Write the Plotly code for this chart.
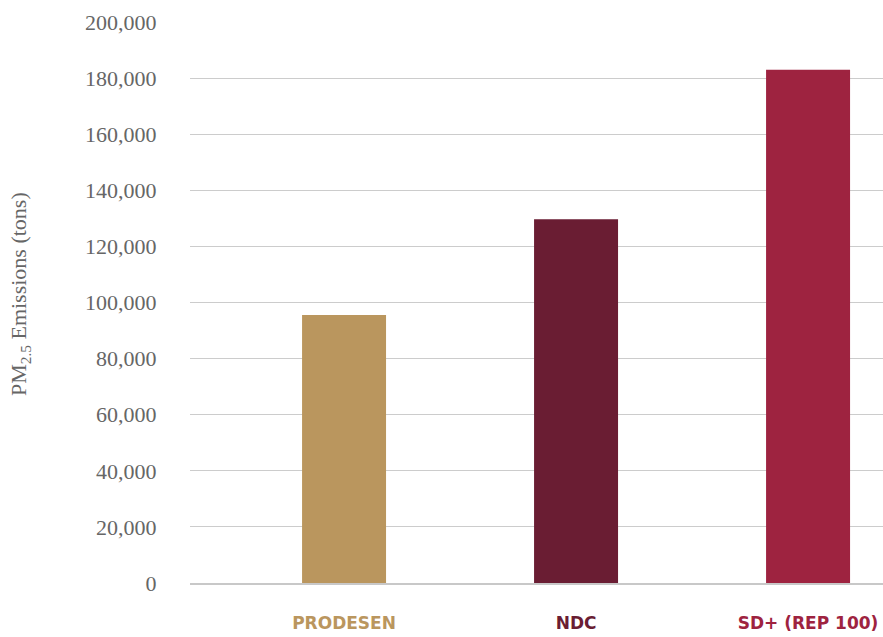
import plotly.graph_objects as go

categories = ["PRODESEN", "NDC", "SD+ (REP 100)"]
values = [95500, 129700, 183000]
colors = ["#BA965E", "#6A1D33", "#9E2340"]
y_ticks = [0, 20000, 40000, 60000, 80000, 100000, 120000, 140000, 160000, 180000, 200000]
y_ticktext = ["{:,}".format(v) for v in y_ticks]

fig = go.Figure()
fig.add_trace(go.Bar(
    x=categories, y=values, marker=dict(color=colors, line=dict(width=0)),
    width=0.362, hoverinfo="x+y",
))

tick_html = ["<span style='color:%s'>%s</span>" % (c, n) for n, c in zip(categories, colors)]

fig.update_layout(
    width=883, height=637,
    margin=dict(l=190, r=0, t=22, b=54, autoexpand=False),
    plot_bgcolor="white", paper_bgcolor="white",
    showlegend=False,
    xaxis=dict(
        type="category", range=[-0.664, 2.323],
        tickmode="array", tickvals=categories, ticktext=tick_html,
        tickfont=dict(family="DejaVu Sans, sans-serif", size=17, weight="bold"),
        showgrid=False, showline=True, linecolor="#C8C8C8", linewidth=2,
        ticks="outside", ticklen=24, tickcolor="rgba(0,0,0,0)",
        automargin=False,
    ),
    yaxis=dict(
        range=[0, 200000], tickmode="array", tickvals=y_ticks, ticktext=y_ticktext,
        tickfont=dict(family="Liberation Serif, serif", size=22, color="#666666"),
        showgrid=True, gridcolor="#CCCCCC", gridwidth=1,
        zeroline=False, showline=False,
        ticks="outside", ticklen=28, tickcolor="rgba(0,0,0,0)",
        automargin=False,
    ),
    annotations=[dict(
        text="PM<sub>2.5</sub> Emissions (tons)", xref="paper", yref="paper",
        x=0, xshift=-170, y=0.515, textangle=-90, showarrow=False,
        font=dict(family="Liberation Serif, serif", size=22, color="#666666"),
        xanchor="center", yanchor="middle",
    )],
)

fig.write_html("out.html", config={"displayModeBar": False},
               post_script="document.body.style.margin='0';document.body.style.overflow='hidden';")
